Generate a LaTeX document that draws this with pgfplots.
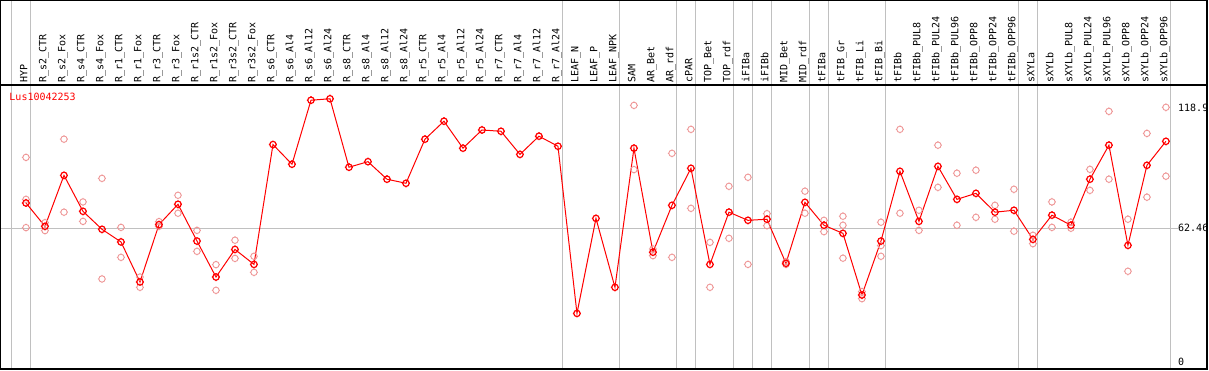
\documentclass[border=0pt]{standalone}
\usepackage{pgfplots}
\pgfplotsset{compat=1.18}
\usepackage{fontspec}
\setmonofont{DejaVu Sans Mono}
\definecolor{rep}{RGB}{238,150,150}
\definecolor{gridc}{RGB}{192,192,192}
\pgfdeclareplotmark{ccirc}{%
  \pgfpathcircle{\pgfpointorigin}{\pgfplotmarksize}%
  \pgfpathmoveto{\pgfpoint{\pgfplotmarksize}{0pt}}\pgfpathlineto{\pgfpoint{\pgfplotmarksize+0.8pt}{0pt}}%
  \pgfpathmoveto{\pgfpoint{-\pgfplotmarksize}{0pt}}\pgfpathlineto{\pgfpoint{-\pgfplotmarksize-0.8pt}{0pt}}%
  \pgfpathmoveto{\pgfpoint{0pt}{\pgfplotmarksize}}\pgfpathlineto{\pgfpoint{0pt}{\pgfplotmarksize+0.8pt}}%
  \pgfpathmoveto{\pgfpoint{0pt}{-\pgfplotmarksize}}\pgfpathlineto{\pgfpoint{0pt}{-\pgfplotmarksize-0.8pt}}%
  \pgfusepathqstroke}
\pgfplotstableread{
x y
0 74.3
1 63.4
2 87.2
3 70.4
4 62.0
5 56.1
6 37.4
7 64.2
8 73.7
9 56.5
10 39.7
11 52.6
12 45.6
13 101.6
14 92.4
15 122.3
16 123.0
17 91.0
18 93.6
19 85.4
20 83.5
21 104.1
22 112.5
23 99.9
24 108.4
25 107.8
26 97.0
27 105.5
28 100.8
29 22.7
30 67.1
31 34.9
32 99.9
33 51.3
34 73.2
35 90.5
36 45.6
37 70.0
38 66.2
39 66.7
40 46.1
41 74.6
42 63.9
43 60.1
44 31.3
45 56.5
46 89.1
47 65.7
48 91.4
49 76.0
50 78.8
51 70.0
52 70.9
53 57.3
54 68.6
55 63.9
56 85.4
57 101.3
58 54.5
59 91.9
60 103.1
}\maintable
\pgfplotstableread{
x y
0 95.6
0 76.0
0 62.8
1 65.1
1 61.4
2 104.1
2 70.0
3 74.8
3 65.7
4 85.8
4 38.8
5 62.9
5 48.9
6 39.7
6 34.9
7 65.6
7 63.4
8 77.9
8 69.5
9 61.5
9 51.7
10 45.5
10 33.5
11 56.9
11 48.4
12 49.4
12 41.9
32 119.9
32 89.9
33 52.8
33 49.7
34 97.5
34 48.9
35 108.7
35 71.8
36 55.9
36 34.9
37 82.1
37 57.8
38 86.3
38 45.6
39 69.3
39 63.7
40 46.9
40 45.6
41 79.8
41 69.5
42 66.2
42 60.9
43 68.1
43 63.9
43 48.5
44 32.9
44 29.6
45 65.3
45 54.4
45 49.4
46 108.7
46 69.5
47 70.9
47 61.5
48 101.3
48 81.6
49 88.2
49 63.9
50 89.6
50 67.6
51 73.2
51 66.7
52 80.7
52 61.1
53 59.2
53 55.3
54 74.8
54 62.9
55 65.3
55 62.5
56 90.0
56 80.2
57 117.1
57 85.4
58 66.7
58 42.4
59 106.8
59 77.0
60 119.0
60 86.8
}\reptable
\begin{document}
\begin{tikzpicture}[font=\ttfamily\fontsize{10}{12}\selectfont]
\begin{axis}[
  at={(0.5pt,1pt)}, anchor=south west,
  scale only axis, width=1206.5pt, height=368.5pt,
  xmin=-1.342, xmax=62.16, ymin=-3.27, ymax=168.9,
  axis line style={draw=none},
  clip=false,
  major tick length=0pt,
  xtick={0,...,60},
  xticklabels={HYP,R\_s2\_CTR,R\_s2\_Fox,R\_s4\_CTR,R\_s4\_Fox,R\_r1\_CTR,R\_r1\_Fox,R\_r3\_CTR,R\_r3\_Fox,R\_r1s2\_CTR,R\_r1s2\_Fox,R\_r3s2\_CTR,R\_r3s2\_Fox,R\_s6\_CTR,R\_s6\_Al4,R\_s6\_Al12,R\_s6\_Al24,R\_s8\_CTR,R\_s8\_Al4,R\_s8\_Al12,R\_s8\_Al24,R\_r5\_CTR,R\_r5\_Al4,R\_r5\_Al12,R\_r5\_Al24,R\_r7\_CTR,R\_r7\_Al4,R\_r7\_Al12,R\_r7\_Al24,LEAF\_N,LEAF\_P,LEAF\_NPK,SAM,AR\_Bet,AR\_rdf,cPAR,TOP\_Bet,TOP\_rdf,iFIBa,iFIBb,MID\_Bet,MID\_rdf,tFIBa,tFIB\_Gr,tFIB\_Li,tFIB\_Bi,tFIBb,tFIBb\_PUL8,tFIBb\_PUL24,tFIBb\_PUL96,tFIBb\_OPP8,tFIBb\_OPP24,tFIBb\_OPP96,sXYLa,sXYLb,sXYLb\_PUL8,sXYLb\_PUL24,sXYLb\_PUL96,sXYLb\_OPP8,sXYLb\_OPP24,sXYLb\_OPP96},
  xticklabel pos=upper,
  xticklabel style={rotate=90, anchor=west, inner sep=0pt, text height=7pt, text depth=4pt},
  xticklabel shift=-82.5pt,
  extra x ticks={-0.78,0.25,28.25,31.23,34.25,35.25,37.25,38.25,39.25,41.25,42.25,45.25,52.25,53.25,60.23},
  extra x tick labels={},
  extra x tick style={grid=major, major grid style={gridc, line width=1pt}},
  ytick={0,118.9}, yticklabels={0,118.9},
  yticklabel pos=right,
  yticklabel style={anchor=west, inner sep=0pt},
  yticklabel shift=-29pt,
  extra y ticks={62.46}, extra y tick labels={62.46},
  extra y tick style={grid=major, major grid style={gridc, line width=1pt}, yticklabel style={fill=white}},
]
\addplot[only marks, draw=rep, mark=ccirc, mark size=3.2pt, mark options={draw=rep, line width=0.9pt}] table[x=x,y=y] {\reptable};
\addplot[red, line width=1pt, mark=ccirc, mark size=3.2pt, mark options={draw=red, line width=1.2pt}] table[x=x,y=y] {\maintable};
\node[red, anchor=west, inner sep=0pt] at (axis cs:-0.88,123.7) {Lus10042253};
\draw[line width=1.5pt] (rel axis cs:0,0) rectangle (rel axis cs:1,1);
\draw[line width=1.5pt] (axis cs:-1.342,129.4) -- (axis cs:62.16,129.4);
\end{axis}
\pgfresetboundingbox
\path[use as bounding box] (0,0) rectangle (1209pt,370pt);
\end{tikzpicture}
\end{document}
